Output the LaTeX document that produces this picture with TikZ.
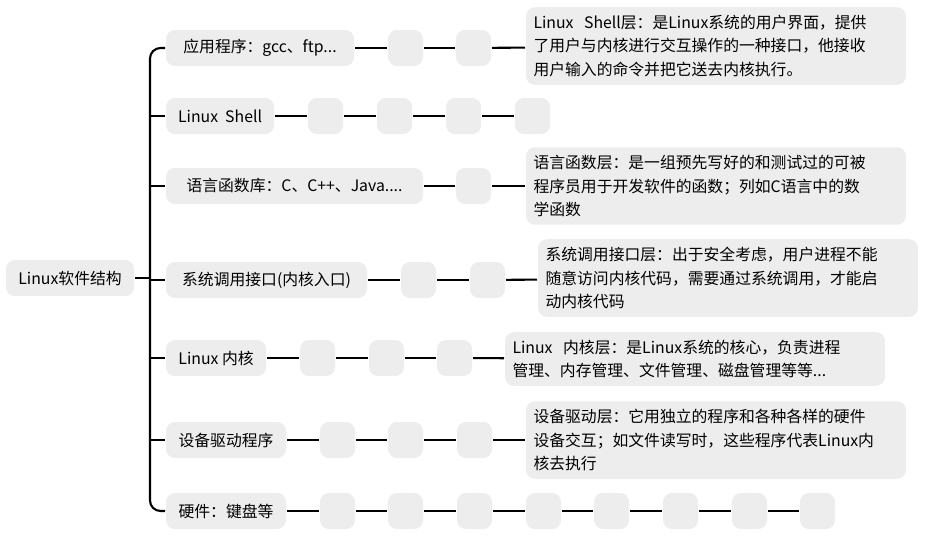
\documentclass[tikz,border=0pt]{standalone}
\usepackage{fontspec}
\setmainfont{Noto Sans CJK SC}
\begin{document}
\begin{tikzpicture}[x=0.02cm,y=-0.02cm,line width=1.2pt,
  box/.style={fill=black!7,rounded corners=5pt,anchor=west,inner sep=0pt,minimum height=0.72cm,font=\fontsize{9}{12}\selectfont},
  blank/.style={box,minimum width=0.7cm},
  note/.style={box,align=left,text width=7.3cm,inner sep=0.15cm,font=\fontsize{9}{13.6}\selectfont}]
\useasboundingbox (0,0) rectangle (938,552);
%root
\node[box,minimum width=2.56cm] (r) at (5,278) {Linux软件结构};
\coordinate (t) at (150,48);
\coordinate (m) at (150,278);
\coordinate (b) at (150,511);
\draw (r.east) -- (m);
%children
\node[box,minimum width=3.76cm] (c1) at (165,48) {应用程序：gcc、ftp...};
\node[box,minimum width=2.16cm] (c2) at (165,116) {Linux\ \ Shell};
\node[box,minimum width=5.14cm] (c3) at (165,186) {语言函数库：C、C++、Java....};
\node[box,minimum width=4.02cm] (c4) at (165,280) {系统调用接口(内核入口)};
\node[box,minimum width=2.0cm] (c5) at (165,358) {Linux 内核};
\node[box,minimum width=2.4cm] (c6) at (165,440) {设备驱动程序};
\node[box,minimum width=2.4cm] (c7) at (165,511) {硬件：键盘等};
\draw[rounded corners=6pt] (c1.west) -- (t) -- (b) -- (c7.west);
\foreach \i/\y in {2/116,3/186,4/280,5/358,6/440}
  \draw (150,\y) -- (c\i.west);
%blank boxes
\node[blank] (a1) at (387,48) {};
\node[blank] (a2) at (455,48) {};
\draw (c1) -- (a1) -- (a2);
\node[blank] (s1) at (307,116) {};
\node[blank] (s2) at (376,116) {};
\node[blank] (s3) at (445,116) {};
\node[blank] (s4) at (514,116) {};
\draw (c2) -- (s1) -- (s2) -- (s3) -- (s4);
\node[blank] (l1) at (455,186) {};
\draw (c3) -- (l1);
\node[blank] (i1) at (400,280) {};
\node[blank] (i2) at (469,280) {};
\draw (c4) -- (i1) -- (i2);
\node[blank] (k1) at (299,358) {};
\node[blank] (k2) at (368,358) {};
\node[blank] (k3) at (436,358) {};
\draw (c5) -- (k1) -- (k2) -- (k3);
\node[blank] (d1) at (319,440) {};
\node[blank] (d2) at (387,440) {};
\node[blank] (d3) at (456,440) {};
\draw (c6) -- (d1) -- (d2) -- (d3);
\foreach \x [count=\n] in {319,387,456,525,593,662,731,799}
  \node[blank] (h\n) at (\x,511) {};
\draw (c7) -- (h1) -- (h2) -- (h3) -- (h4) -- (h5) -- (h6) -- (h7) -- (h8);
%notes
\node[note] (n1) at (525,46) {Linux\ \ Shell层：是Linux系统的用户界面，提供\\了用户与内核进行交互操作的一种接口，他接收\\用户输入的命令并把它送去内核执行。};
\draw (a2) -- (n1);
\node[note] (n3) at (525,186) {语言函数层：是一组预先写好的和测试过的可被\\程序员用于开发软件的函数；列如C语言中的数\\学函数};
\draw (l1) -- (n3);
\node[note] (n4) at (537,278) {系统调用接口层：出于安全考虑，用户进程不能\\随意访问内核代码，需要通过系统调用，才能启\\动内核代码};
\draw (i2) -- (n4);
\node[note] (n5) at (504,359) {Linux\ \ 内核层：是Linux系统的核心，负责进程\\管理、内存管理、文件管理、磁盘管理等等...};
\draw (k3) -- (n5);
\node[note] (n6) at (525,440) {设备驱动层：它用独立的程序和各种各样的硬件\\设备交互；如文件读写时，这些程序代表Linux内\\核去执行};
\draw (d3) -- (n6);
\end{tikzpicture}
\end{document}
